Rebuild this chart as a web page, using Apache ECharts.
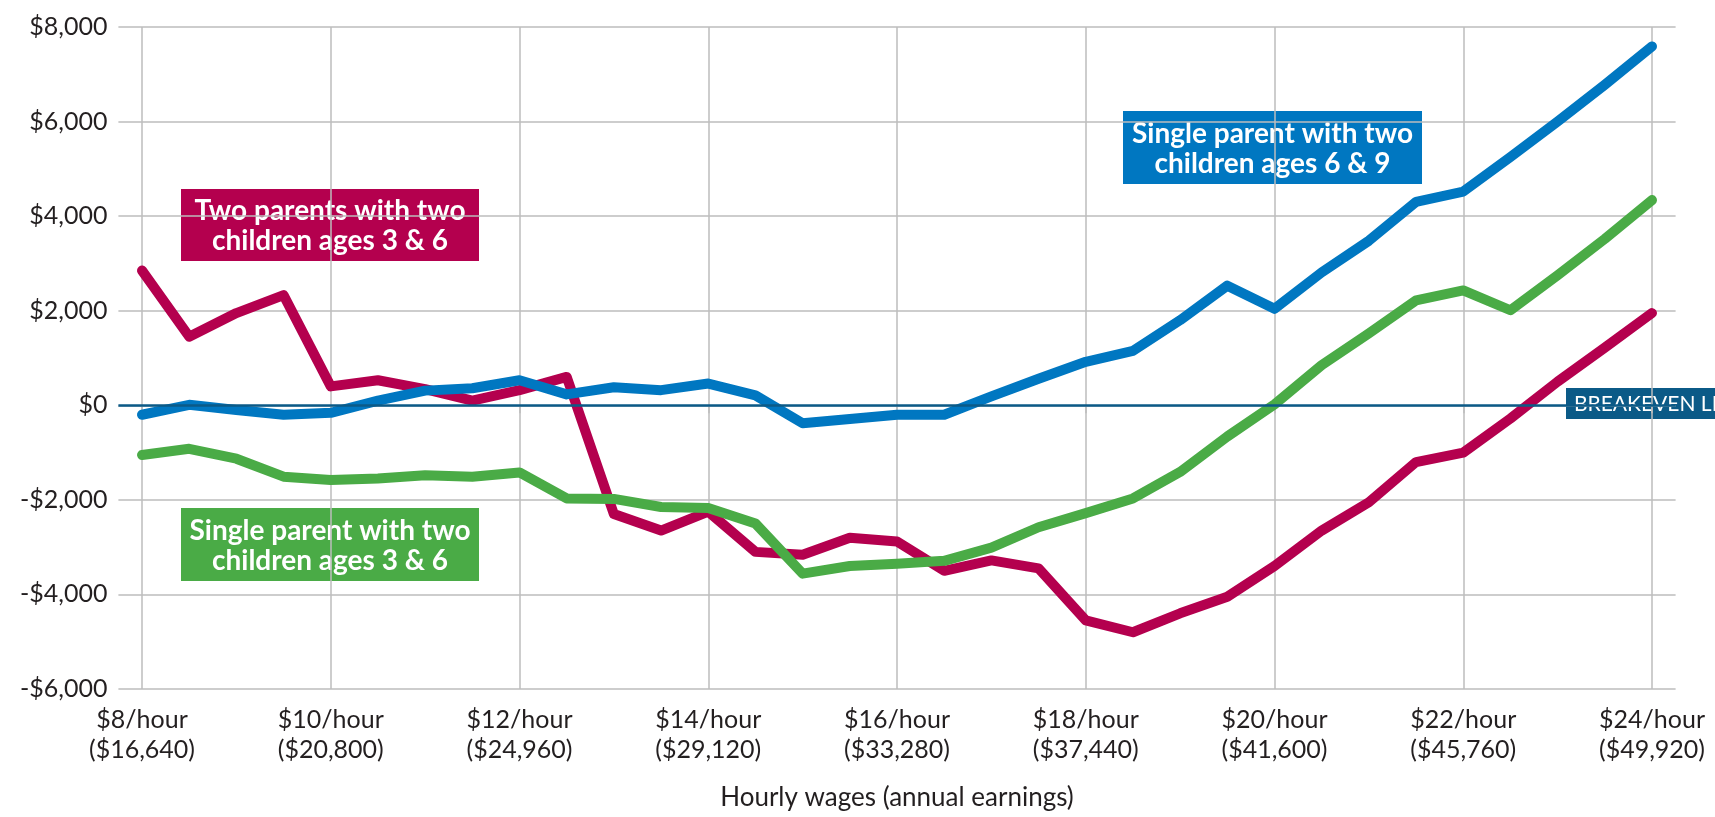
<!DOCTYPE html>
<html>
<head>
<meta charset="utf-8">
<script src="https://cdn.jsdelivr.net/npm/echarts@6/dist/echarts.min.js"></script>
<style>
  html, body { margin: 0; padding: 0; background: #fff; }
  #chart { width: 1715px; height: 817px; }
</style>
</head>
<body>
<div id="chart"></div>
<script>
// hourly wage steps ($/hour)
var hours = [8, 8.5, 9, 9.5, 10, 10.5, 11, 11.5, 12, 12.5, 13, 13.5, 14, 14.5, 15, 15.5,
             16, 16.5, 17, 17.5, 18, 18.5, 19, 19.5, 20, 20.5, 21, 21.5, 22, 22.5, 23, 23.5, 24];

// two parents, children 3 & 6
var twoParents = [2850, 1450, 1950, 2330, 400, 530, 340, 100, 320, 600, -2300, -2650, -2250, -3100,
                  -3160, -2800, -2880, -3500, -3280, -3450, -4550, -4800, -4400, -4050, -3400, -2650,
                  -2050, -1200, -1000, -280, 500, 1220, 1950];

// single parent, children 6 & 9
var singleOlder = [-200, 10, -100, -200, -160, 100, 310, 360, 530, 230, 380, 320, 460, 210,
                   -380, -290, -200, -200, 190, 560, 920, 1150, 1800, 2530, 2040, 2810,
                   3480, 4300, 4520, 5250, 6000, 6780, 7590];

// single parent, children 3 & 6
var singleYounger = [-1050, -920, -1130, -1510, -1580, -1550, -1480, -1510, -1420, -1970, -1980, -2150,
                     -2170, -2500, -3560, -3400, -3350, -3290, -3010, -2580, -2280, -1970, -1410,
                     -660, 20, 850, 1520, 2220, 2430, 2010, 2750, 3520, 4340];

var xTickLabels = {
  8: '$8/hour\n($16,640)', 10: '$10/hour\n($20,800)', 12: '$12/hour\n($24,960)',
  14: '$14/hour\n($29,120)', 16: '$16/hour\n($33,280)', 18: '$18/hour\n($37,440)',
  20: '$20/hour\n($41,600)', 22: '$22/hour\n($45,760)', 24: '$24/hour\n($49,920)'
};

var seriesNames = ['Two parents with two\nchildren ages 3 & 6',
                   'Single parent with two\nchildren ages 6 & 9',
                   'Single parent with two\nchildren ages 3 & 6'];

var CRIMSON = '#b4004e', BLUE = '#0077c1', GREEN = '#4aab46', NAVY = '#0b5a87';
var FONT = 'Lato';

function pairs(vals) {
  return hours.map(function (h, i) { return [h, vals[i]]; });
}

function money(v) {
  var s = '$' + Math.abs(v).toLocaleString('en-US');
  return v < 0 ? '-' + s : s;
}

function lineSeries(name, vals, color, z) {
  return {
    name: name,
    type: 'line',
    data: pairs(vals),
    xAxisIndex: 0,
    yAxisIndex: 0,
    showSymbol: false,
    symbol: 'none',
    clip: false,
    z: z,
    lineStyle: { color: color, width: 10, cap: 'round', join: 'round' }
  };
}

function labelBox(left, top, w, h, color, text) {
  return {
    type: 'group',
    left: left,
    top: top,
    z: 100,
    children: [
      { type: 'rect', shape: { x: 0, y: 0, width: w, height: h }, style: { fill: color } },
      {
        type: 'text',
        x: w / 2,
        y: h / 2 + 1,
        style: {
          text: text, fill: '#fff', font: 'bold 28px ' + FONT,
          align: 'center', verticalAlign: 'middle', lineHeight: 30
        }
      }
    ]
  };
}

var myChart = echarts.init(document.getElementById('chart'));

var option = {
  backgroundColor: '#fff',
  animation: false,
  grid: [
    { left: 118.4, right: 39.4, top: 27, bottom: 128 },
    { left: 142, right: 63, top: 27, bottom: 128 }
  ],
  xAxis: [
    { type: 'value', gridIndex: 0, min: 7.75, max: 24.25, show: false },
    {
      type: 'value', gridIndex: 1, min: 8, max: 24, interval: 2,
      axisLine: { show: false },
      axisTick: { show: true, length: 8, lineStyle: { color: '#bdbdbd', width: 1.5 } },
      splitLine: { show: true, lineStyle: { color: '#bdbdbd', width: 1.5 } },
      axisLabel: {
        margin: 16, fontFamily: FONT, fontSize: 25, lineHeight: 30, color: '#231f20',
        formatter: function (v) { return xTickLabels[v] || ''; }
      },
      name: 'Hourly wages (annual earnings)',
      nameLocation: 'middle',
      nameGap: 96,
      nameTextStyle: { fontFamily: FONT, fontSize: 26, color: '#231f20', verticalAlign: 'top' }
    }
  ],
  yAxis: [
    {
      type: 'value', gridIndex: 0, min: -6000, max: 8000, interval: 2000,
      axisLine: { show: false },
      axisTick: { show: false },
      splitLine: { show: true, lineStyle: { color: '#bdbdbd', width: 1.5 } },
      axisLabel: {
        margin: 11, fontFamily: FONT, fontSize: 25, color: '#231f20',
        formatter: money
      }
    },
    { type: 'value', gridIndex: 1, min: -6000, max: 8000, show: false }
  ],
  series: [
    {
      name: 'breakeven',
      type: 'line',
      data: [],
      z: 1,
      markLine: {
        silent: true,
        symbol: 'none',
        label: { show: false },
        lineStyle: { color: NAVY, width: 2.5, type: 'solid' },
        data: [{ yAxis: 0 }]
      }
    },
    lineSeries(seriesNames[0], twoParents, CRIMSON, 2),
    lineSeries(seriesNames[2], singleYounger, GREEN, 3),
    lineSeries(seriesNames[1], singleOlder, BLUE, 4)
  ],
  graphic: [
    labelBox(181, 189, 298, 72, CRIMSON, seriesNames[0]),
    labelBox(1123, 111, 299, 73, BLUE, seriesNames[1]),
    labelBox(181, 508, 298, 73, GREEN, seriesNames[2]),
    {
      type: 'group',
      left: 1566,
      top: 388,
      z: 100,
      children: [
        { type: 'rect', shape: { x: 0, y: 0, width: 180, height: 31 }, style: { fill: NAVY } },
        {
          type: 'text', x: 8, y: 16,
          style: { text: 'BREAKEVEN LINE', fill: '#fff', font: '21px ' + FONT, verticalAlign: 'middle' }
        }
      ]
    }
  ]
};

myChart.setOption(option);
</script>
</body>
</html>
